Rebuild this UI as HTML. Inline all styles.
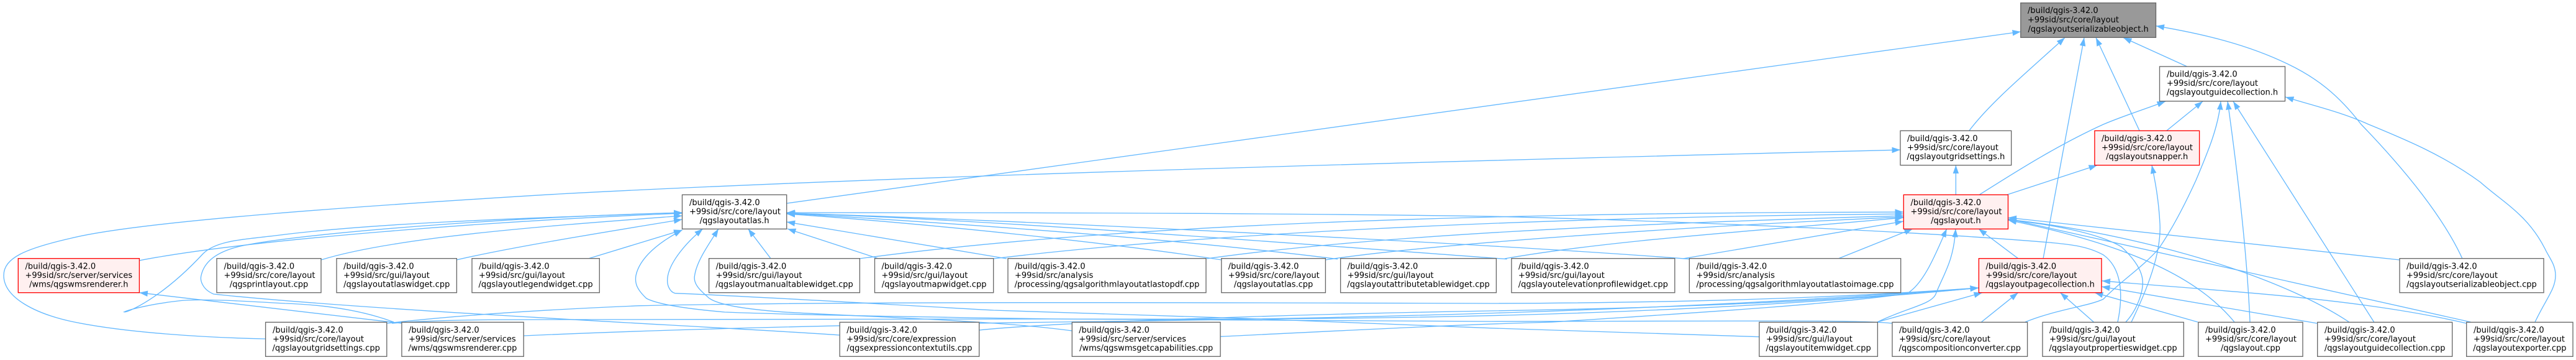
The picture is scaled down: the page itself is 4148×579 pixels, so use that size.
<!DOCTYPE html>
<html><head><meta charset="utf-8"><style>
html,body{margin:0;padding:0;background:#fff}
svg{display:block}
.e path{fill:none;stroke:#63b8ff;stroke-width:1.33;marker-end:url(#a)}
rect{stroke:#666;stroke-width:1.33;fill:#fff}
rect.r{stroke:#f00;fill:#fff0f0}
rect.g{fill:#999}
text{font-family:"DejaVu Sans","Liberation Sans",sans-serif;font-size:13px;fill:#000}
.m{text-anchor:middle}
</style></head><body>
<svg xmlns="http://www.w3.org/2000/svg" width="4148" height="579" viewBox="0 0 4148 579">
<defs><marker id="a" markerUnits="userSpaceOnUse" markerWidth="15" markerHeight="11" refX="13.5" refY="5.5" orient="auto"><path d="M0 .7L13.5 5.5L0 10.3z" fill="#63b8ff"/></marker></defs>
<g class="e">
<path d="M1267 327L3254 51"/>
<path d="M3171 210C3205 165 3265 115 3325 60.5"/>
<path d="M3290 416L3356 60.5"/>
<path d="M3445 210L3375 60.5"/>
<path d="M3521.6 107L3419 60.5"/>
<path d="M3965 416C3930 340 3860 260 3802 200C3765 152 3730 125 3684 103C3620 72 3550 55 3471.5 41.7"/>
<path d="M3187.6 313C3240 280 3310 235 3387 200C3420 186 3450 177 3487 163"/>
<path d="M3489 210L3547 163"/>
<path d="M3261 518C3310 498 3365 492 3387 481C3415 452 3450 430 3476 400C3500 365 3520 325 3536 290C3555 245 3572 205 3576 163"/>
<path d="M3623 518C3618 400 3602 270 3587 163"/>
<path d="M3822.7 518L3596 163"/>
<path d="M4082 518C4100 480 4115 465 4115 443C4115 425 4105 415 4098 400C4070 345 4030 325 3994 293C3935 250 3875 225 3814 200C3770 180 3725 170 3680 156"/>
<path d="M3232.4 313L3377 265.7"/>
<path d="M3432 518C3465 450 3480 400 3478 360C3476 320 3470 290 3465 265.7"/>
<path d="M427.6 545C330 543 200 535 115 517C60 505 6 480 6 443C6 415 40 400 115 383C230 355 600 330 900 312C1500 280 2500 255 3060 241"/>
<path d="M3149.4 313L3149.4 265.7"/>
<path d="M224.4 419C400 385 800 355 1098.5 343"/>
<path d="M517 418C640 380 900 362 1098.5 347"/>
<path d="M735 418C800 403 900 385 1098.5 353"/>
<path d="M948 415.7L1098.5 370"/>
<path d="M1241 415.7L1204.7 368"/>
<path d="M1414 415.7L1268 368"/>
<path d="M1621 416L1266.7 357"/>
<path d="M1967 418C1800 392 1500 360 1266.7 344"/>
<path d="M2154 416.7C1900 385 1600 363 1266.7 343"/>
<path d="M2426.6 416.7C2100 393 1600 353 1266.7 343"/>
<path d="M2721 416.7C2400 392 1600 352 1266.7 343"/>
<path d="M3410 518C3420 470 3415 430 3387 410C3360 395 3330 393 3300 390C3000 365 2500 350 2400 348C2000 342 1600 342 1266.7 342"/>
<path d="M3047 520C3000 515 2900 516 2400 517L1700 513C1500 510 1300 507 1167 502C1110 497 1060 490 1041 480C1025 465 1022 455 1024 443C1030 415 1060 390 1098.5 370"/>
<path d="M2832.8 541.7L2400 527.7C2100 515 1900 508 1600 499C1400 488 1200 476 1087 471.7C1080 470 1072 460 1075.5 443C1080 420 1105 390 1131.8 368"/>
<path d="M1726 532C1600 515 1400 510 1259 501.7C1200 497 1150 490 1138.7 476.7C1125 465 1116 455 1118.6 443C1122 420 1140 395 1157 368"/>
<path d="M1352 539C1150 525 600 500 344 473C325 465 322 450 324 443C330 415 360 400 402 393C500 375 800 350 1098.5 342"/>
<path d="M634 518C580 498 520 490 459 488C390 484 320 480 287 484C250 488 210 497 200 501.7C205 503 260 480 327 408C350 385 400 385 459 377C600 360 800 352 1098.5 342"/>
<path d="M647 520L224.4 470.7"/>
<path d="M623 520C746 506 900 497 1030 491.7C1300 486 1700 485.7 2400 488C2700 487 2950 480 3186 463"/>
<path d="M843 540C1115 528 1400 522 1700 518C2200 512 2700 500 3186 463"/>
<path d="M1576.7 531C1700 518 2100 505 2400 500C2700 495 2950 485 3186 463"/>
<path d="M1965 541.3C2200 530 2350 522 2500 518C2700 505 2950 490 3071 472C3100 455 3120 400 3134.8 368"/>
<path d="M631 520C700 514 800 514 900 514L1700 513C2200 515 2700 510 3186 463"/>
<path d="M1384 416C1800 360 2400 342 3065 341"/>
<path d="M1600 416C1900 380 2400 350 3065 344"/>
<path d="M1943 416C2200 380 2600 360 3065 347"/>
<path d="M2134 418C2300 393 2700 365 3065 349"/>
<path d="M2423 416C2600 385 2850 370 3065 350"/>
<path d="M2710 416L3065 356"/>
<path d="M2960 416L3080 368"/>
<path d="M3249.6 415.7L3186 368"/>
<path d="M3023 518C3070 495 3110 490 3117 473C3130 440 3146 420 3149 368"/>
<path d="M3864 418L3233.5 350"/>
<path d="M3978.5 518L3233.5 352"/>
<path d="M3782.6 518C3650 430 3400 370 3233.5 353"/>
<path d="M3598 518C3550 460 3460 400 3233.5 354"/>
<path d="M3423 518C3440 500 3452 470 3450 450C3448 430 3430 410 3416 397C3380 375 3300 360 3233.5 354"/>
<path d="M3371.4 518L3317.6 470.7"/>
<path d="M3539 518L3373 470.7"/>
<path d="M3731 520L3384 461"/>
<path d="M3971.7 520C3800 480 3600 470 3384.6 451.7"/>
<path d="M3023 518L3192 470.7"/>
<path d="M3190.5 518L3249.6 470.7"/>
</g>

<rect class="g" x="3253.8" y="4.7" width="217.7" height="55.6"/>
<text x="3265" y="21">/build/qgis-3.42.0</text><text x="3265" y="36">+99sid/src/core/layout</text><text x="3362.6" y="51" class="m">/qgslayoutserializableobject.h</text>

<rect x="3477.5" y="107" width="202" height="55.7"/>
<text x="3489" y="123.5">/build/qgis-3.42.0</text><text x="3489" y="138">+99sid/src/core/layout</text><text x="3578.5" y="152.5" class="m">/qgslayoutguidecollection.h</text>

<rect x="3060" y="210.3" width="178.7" height="55.4"/>
<text x="3071" y="227">/build/qgis-3.42.0</text><text x="3071" y="241.5">+99sid/src/core/layout</text><text x="3149.4" y="256" class="m">/qgslayoutgridsettings.h</text>

<rect class="r" x="3372.9" y="210.3" width="168.7" height="55.4"/>
<text x="3384" y="227">/build/qgis-3.42.0</text><text x="3384" y="241.5">+99sid/src/core/layout</text><text x="3457.2" y="256" class="m">/qgslayoutsnapper.h</text>

<rect x="1098.5" y="313.3" width="168.2" height="55"/>
<text x="1110" y="329.9">/build/qgis-3.42.0</text><text x="1110" y="344.5">+99sid/src/core/layout</text><text x="1182.6" y="359.2" class="m">/qgslayoutatlas.h</text>

<rect class="r" x="3065.3" y="313.3" width="168.2" height="55"/>
<text x="3076.5" y="329.9">/build/qgis-3.42.0</text><text x="3076.5" y="344.5">+99sid/src/core/layout</text><text x="3149.4" y="359.2" class="m">/qgslayout.h</text>

<rect class="r" x="29.3" y="415.7" width="195.1" height="55"/>
<text x="40.5" y="432.3">/build/qgis-3.42.0</text><text x="40.5" y="446.9">+99sid/src/server/services</text><text x="126.8" y="461.6" class="m">/wms/qgswmsrenderer.h</text>

<rect x="349" y="415.7" width="168" height="55"/>
<text x="360.5" y="432.3">/build/qgis-3.42.0</text><text x="360.5" y="446.9">+99sid/src/core/layout</text><text x="433" y="461.6" class="m">/qgsprintlayout.cpp</text>

<rect x="542" y="415.7" width="193.4" height="55"/>
<text x="553" y="432.3">/build/qgis-3.42.0</text><text x="553" y="446.9">+99sid/src/gui/layout</text><text x="638.7" y="461.6" class="m">/qgslayoutatlaswidget.cpp</text>

<rect x="760" y="415.7" width="205.3" height="55"/>
<text x="771" y="432.3">/build/qgis-3.42.0</text><text x="771" y="446.9">+99sid/src/gui/layout</text><text x="862.6" y="461.6" class="m">/qgslayoutlegendwidget.cpp</text>

<rect x="1141.6" y="415.7" width="242.8" height="55"/>
<text x="1152.6" y="432.3">/build/qgis-3.42.0</text><text x="1152.6" y="446.9">+99sid/src/gui/layout</text><text x="1263" y="461.6" class="m">/qgslayoutmanualtablewidget.cpp</text>

<rect x="1408.5" y="415.7" width="191.2" height="55"/>
<text x="1419.5" y="432.3">/build/qgis-3.42.0</text><text x="1419.5" y="446.9">+99sid/src/gui/layout</text><text x="1504.1" y="461.6" class="m">/qgslayoutmapwidget.cpp</text>

<rect x="1623" y="415.7" width="319" height="55"/>
<text x="1634" y="432.3">/build/qgis-3.42.0</text><text x="1634" y="446.9">+99sid/src/analysis</text><text x="1782.5" y="461.6" class="m">/processing/qgsalgorithmlayoutatlastopdf.cpp</text>

<rect x="1966.8" y="415.7" width="167.6" height="55"/>
<text x="1977.8" y="432.3">/build/qgis-3.42.0</text><text x="1977.8" y="446.9">+99sid/src/core/layout</text><text x="2050.6" y="461.6" class="m">/qgslayoutatlas.cpp</text>

<rect x="2158.6" y="415.7" width="250.8" height="55"/>
<text x="2169.6" y="432.3">/build/qgis-3.42.0</text><text x="2169.6" y="446.9">+99sid/src/gui/layout</text><text x="2284" y="461.6" class="m">/qgslayoutattributetablewidget.cpp</text>

<rect x="2433.9" y="415.7" width="262.9" height="55"/>
<text x="2445" y="432.3">/build/qgis-3.42.0</text><text x="2445" y="446.9">+99sid/src/gui/layout</text><text x="2565.3" y="461.6" class="m">/qgslayoutelevationprofilewidget.cpp</text>

<rect x="2720.3" y="415.7" width="340.4" height="55"/>
<text x="2731.5" y="432.3">/build/qgis-3.42.0</text><text x="2731.5" y="446.9">+99sid/src/analysis</text><text x="2890.5" y="461.6" class="m">/processing/qgsalgorithmlayoutatlastoimage.cpp</text>

<rect class="r" x="3186.4" y="415.7" width="197.6" height="55"/>
<text x="3197.5" y="432.3">/build/qgis-3.42.0</text><text x="3197.5" y="446.9">+99sid/src/core/layout</text><text x="3285.2" y="461.6" class="m">/qgslayoutpagecollection.h</text>

<rect x="3864" y="415.7" width="232" height="55"/>
<text x="3875" y="432.3">/build/qgis-3.42.0</text><text x="3875" y="446.9">+99sid/src/core/layout</text><text x="3980" y="461.6" class="m">/qgslayoutserializableobject.cpp</text>

<rect x="427.6" y="518.3" width="195.2" height="55"/>
<text x="439" y="534.9">/build/qgis-3.42.0</text><text x="439" y="549.5">+99sid/src/core/layout</text><text x="525.2" y="564.2" class="m">/qgslayoutgridsettings.cpp</text>

<rect x="646.9" y="518.3" width="196.3" height="55"/>
<text x="658" y="534.9">/build/qgis-3.42.0</text><text x="658" y="549.5">+99sid/src/server/services</text><text x="745" y="564.2" class="m">/wms/qgswmsrenderer.cpp</text>

<rect x="1352.2" y="518.3" width="224.5" height="55"/>
<text x="1363.3" y="534.9">/build/qgis-3.42.0</text><text x="1363.3" y="549.5">+99sid/src/core/expression</text><text x="1464.5" y="564.2" class="m">/qgsexpressioncontextutils.cpp</text>

<rect x="1726.3" y="518.3" width="238.8" height="55"/>
<text x="1737.3" y="534.9">/build/qgis-3.42.0</text><text x="1737.3" y="549.5">+99sid/src/server/services</text><text x="1845.7" y="564.2" class="m">/wms/qgswmsgetcapabilities.cpp</text>

<rect x="2832.8" y="518.3" width="190.6" height="55"/>
<text x="2844" y="534.9">/build/qgis-3.42.0</text><text x="2844" y="549.5">+99sid/src/gui/layout</text><text x="2928.1" y="564.2" class="m">/qgslayoutitemwidget.cpp</text>

<rect x="3047" y="518.3" width="217.6" height="55"/>
<text x="3058" y="534.9">/build/qgis-3.42.0</text><text x="3058" y="549.5">+99sid/src/core/layout</text><text x="3155.8" y="564.2" class="m">/qgscompositionconverter.cpp</text>

<rect x="3289" y="518.3" width="227.3" height="55"/>
<text x="3300" y="534.9">/build/qgis-3.42.0</text><text x="3300" y="549.5">+99sid/src/gui/layout</text><text x="3402.6" y="564.2" class="m">/qgslayoutpropertieswidget.cpp</text>

<rect x="3539.8" y="518.3" width="168.2" height="55"/>
<text x="3551" y="534.9">/build/qgis-3.42.0</text><text x="3551" y="549.5">+99sid/src/core/layout</text><text x="3623.9" y="564.2" class="m">/qgslayout.cpp</text>

<rect x="3731.7" y="518.3" width="217" height="55"/>
<text x="3743" y="534.9">/build/qgis-3.42.0</text><text x="3743" y="549.5">+99sid/src/core/layout</text><text x="3840.2" y="564.2" class="m">/qgslayoutguidecollection.cpp</text>

<rect x="3971.7" y="518.3" width="171.3" height="55"/>
<text x="3983" y="534.9">/build/qgis-3.42.0</text><text x="3983" y="549.5">+99sid/src/core/layout</text><text x="4057.4" y="564.2" class="m">/qgslayoutexporter.cpp</text>
</svg>
</body></html>
